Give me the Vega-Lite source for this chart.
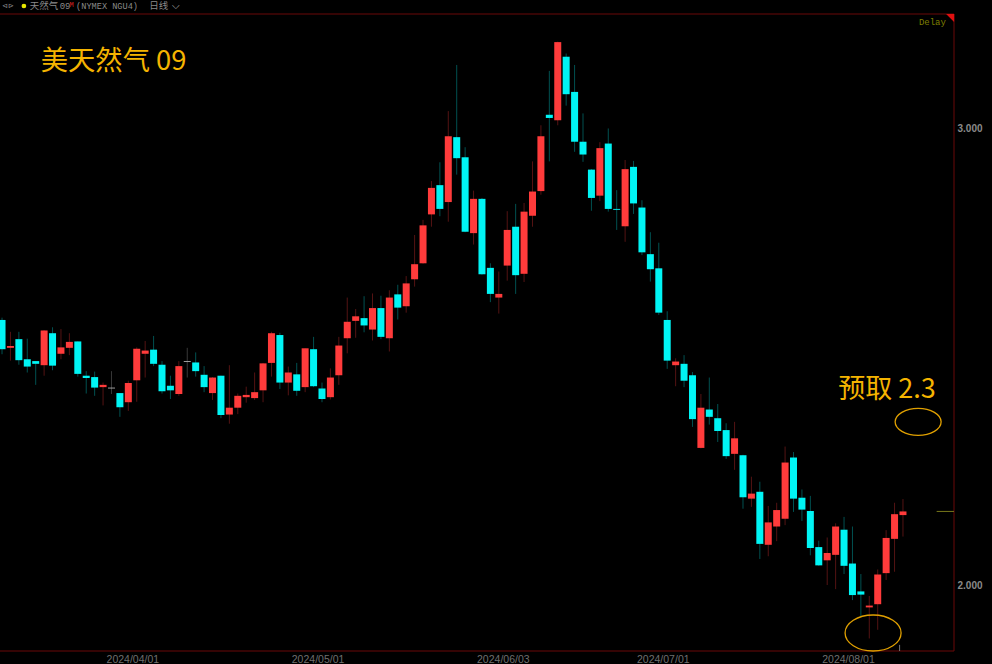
{"$schema":"https://vega.github.io/schema/vega-lite/v6.json","width":954,"height":637,"autosize":"none","padding":{"left":0,"top":14,"right":38,"bottom":13},"background":"#000000","config":{"view":{"stroke":null}},
"datasets":{"candles":[
{"i":0,"date":"2024-03-08","o":2.580,"h":2.585,"l":2.505,"c":2.516,"dir":"down"},
{"i":1,"date":"2024-03-11","o":2.519,"h":2.554,"l":2.491,"c":2.523,"dir":"up"},
{"i":2,"date":"2024-03-12","o":2.538,"h":2.554,"l":2.482,"c":2.492,"dir":"down"},
{"i":3,"date":"2024-03-13","o":2.494,"h":2.539,"l":2.465,"c":2.478,"dir":"down"},
{"i":4,"date":"2024-03-14","o":2.490,"h":2.490,"l":2.438,"c":2.484,"dir":"down"},
{"i":5,"date":"2024-03-15","o":2.481,"h":2.558,"l":2.458,"c":2.557,"dir":"up"},
{"i":6,"date":"2024-03-18","o":2.551,"h":2.564,"l":2.470,"c":2.480,"dir":"down"},
{"i":7,"date":"2024-03-19","o":2.506,"h":2.560,"l":2.494,"c":2.520,"dir":"up"},
{"i":8,"date":"2024-03-20","o":2.519,"h":2.551,"l":2.503,"c":2.532,"dir":"up"},
{"i":9,"date":"2024-03-21","o":2.533,"h":2.533,"l":2.456,"c":2.462,"dir":"down"},
{"i":10,"date":"2024-03-22","o":2.458,"h":2.468,"l":2.419,"c":2.453,"dir":"down"},
{"i":11,"date":"2024-03-25","o":2.455,"h":2.467,"l":2.414,"c":2.432,"dir":"down"},
{"i":12,"date":"2024-03-26","o":2.433,"h":2.443,"l":2.393,"c":2.438,"dir":"up"},
{"i":13,"date":"2024-03-27","o":2.432,"h":2.468,"l":2.418,"c":2.430,"dir":"flat"},
{"i":14,"date":"2024-03-28","o":2.420,"h":2.420,"l":2.368,"c":2.389,"dir":"down"},
{"i":15,"date":"2024-04-01","o":2.400,"h":2.447,"l":2.381,"c":2.442,"dir":"up"},
{"i":16,"date":"2024-04-02","o":2.448,"h":2.520,"l":2.401,"c":2.517,"dir":"up"},
{"i":17,"date":"2024-04-03","o":2.506,"h":2.534,"l":2.454,"c":2.513,"dir":"up"},
{"i":18,"date":"2024-04-04","o":2.515,"h":2.545,"l":2.479,"c":2.484,"dir":"down"},
{"i":19,"date":"2024-04-05","o":2.482,"h":2.490,"l":2.419,"c":2.424,"dir":"down"},
{"i":20,"date":"2024-04-08","o":2.436,"h":2.458,"l":2.407,"c":2.426,"dir":"down"},
{"i":21,"date":"2024-04-09","o":2.418,"h":2.490,"l":2.414,"c":2.479,"dir":"up"},
{"i":22,"date":"2024-04-10","o":2.490,"h":2.519,"l":2.454,"c":2.488,"dir":"flat"},
{"i":23,"date":"2024-04-11","o":2.487,"h":2.509,"l":2.456,"c":2.468,"dir":"down"},
{"i":24,"date":"2024-04-12","o":2.460,"h":2.479,"l":2.422,"c":2.433,"dir":"down"},
{"i":25,"date":"2024-04-15","o":2.420,"h":2.455,"l":2.405,"c":2.454,"dir":"up"},
{"i":26,"date":"2024-04-16","o":2.458,"h":2.458,"l":2.365,"c":2.372,"dir":"down"},
{"i":27,"date":"2024-04-17","o":2.373,"h":2.481,"l":2.353,"c":2.388,"dir":"up"},
{"i":28,"date":"2024-04-18","o":2.388,"h":2.419,"l":2.374,"c":2.414,"dir":"up"},
{"i":29,"date":"2024-04-19","o":2.411,"h":2.434,"l":2.399,"c":2.416,"dir":"up"},
{"i":30,"date":"2024-04-22","o":2.409,"h":2.465,"l":2.405,"c":2.422,"dir":"up"},
{"i":31,"date":"2024-04-23","o":2.426,"h":2.486,"l":2.400,"c":2.485,"dir":"up"},
{"i":32,"date":"2024-04-24","o":2.486,"h":2.554,"l":2.456,"c":2.551,"dir":"up"},
{"i":33,"date":"2024-04-25","o":2.547,"h":2.552,"l":2.429,"c":2.443,"dir":"down"},
{"i":34,"date":"2024-04-26","o":2.443,"h":2.478,"l":2.415,"c":2.465,"dir":"up"},
{"i":35,"date":"2024-04-29","o":2.461,"h":2.486,"l":2.414,"c":2.425,"dir":"down"},
{"i":36,"date":"2024-04-30","o":2.433,"h":2.518,"l":2.422,"c":2.518,"dir":"up"},
{"i":37,"date":"2024-05-01","o":2.516,"h":2.543,"l":2.433,"c":2.435,"dir":"down"},
{"i":38,"date":"2024-05-02","o":2.430,"h":2.443,"l":2.400,"c":2.407,"dir":"down"},
{"i":39,"date":"2024-05-03","o":2.411,"h":2.474,"l":2.406,"c":2.454,"dir":"up"},
{"i":40,"date":"2024-05-06","o":2.459,"h":2.543,"l":2.438,"c":2.524,"dir":"up"},
{"i":41,"date":"2024-05-07","o":2.540,"h":2.629,"l":2.507,"c":2.576,"dir":"up"},
{"i":42,"date":"2024-05-08","o":2.578,"h":2.604,"l":2.541,"c":2.588,"dir":"up"},
{"i":43,"date":"2024-05-09","o":2.584,"h":2.632,"l":2.553,"c":2.568,"dir":"down"},
{"i":44,"date":"2024-05-10","o":2.559,"h":2.638,"l":2.535,"c":2.606,"dir":"up"},
{"i":45,"date":"2024-05-13","o":2.606,"h":2.633,"l":2.538,"c":2.543,"dir":"down"},
{"i":46,"date":"2024-05-14","o":2.540,"h":2.645,"l":2.511,"c":2.629,"dir":"up"},
{"i":47,"date":"2024-05-15","o":2.636,"h":2.657,"l":2.581,"c":2.607,"dir":"down"},
{"i":48,"date":"2024-05-16","o":2.610,"h":2.676,"l":2.596,"c":2.660,"dir":"up"},
{"i":49,"date":"2024-05-17","o":2.669,"h":2.766,"l":2.653,"c":2.702,"dir":"up"},
{"i":50,"date":"2024-05-20","o":2.704,"h":2.799,"l":2.703,"c":2.787,"dir":"up"},
{"i":51,"date":"2024-05-21","o":2.811,"h":2.884,"l":2.784,"c":2.869,"dir":"up"},
{"i":52,"date":"2024-05-22","o":2.875,"h":2.925,"l":2.807,"c":2.823,"dir":"down"},
{"i":53,"date":"2024-05-23","o":2.838,"h":3.037,"l":2.795,"c":2.982,"dir":"up"},
{"i":54,"date":"2024-05-24","o":2.980,"h":3.138,"l":2.898,"c":2.934,"dir":"down"},
{"i":55,"date":"2024-05-28","o":2.936,"h":2.958,"l":2.772,"c":2.773,"dir":"down"},
{"i":56,"date":"2024-05-29","o":2.770,"h":2.863,"l":2.745,"c":2.845,"dir":"up"},
{"i":57,"date":"2024-05-30","o":2.845,"h":2.847,"l":2.679,"c":2.680,"dir":"down"},
{"i":58,"date":"2024-05-31","o":2.694,"h":2.704,"l":2.619,"c":2.637,"dir":"down"},
{"i":59,"date":"2024-06-03","o":2.629,"h":2.686,"l":2.594,"c":2.637,"dir":"up"},
{"i":60,"date":"2024-06-04","o":2.699,"h":2.818,"l":2.666,"c":2.777,"dir":"up"},
{"i":61,"date":"2024-06-05","o":2.784,"h":2.834,"l":2.637,"c":2.678,"dir":"down"},
{"i":62,"date":"2024-06-06","o":2.681,"h":2.836,"l":2.663,"c":2.817,"dir":"up"},
{"i":63,"date":"2024-06-07","o":2.808,"h":2.927,"l":2.784,"c":2.861,"dir":"up"},
{"i":64,"date":"2024-06-10","o":2.862,"h":3.006,"l":2.854,"c":2.982,"dir":"up"},
{"i":65,"date":"2024-06-11","o":3.029,"h":3.125,"l":2.927,"c":3.022,"dir":"down"},
{"i":66,"date":"2024-06-12","o":3.017,"h":3.189,"l":3.006,"c":3.188,"dir":"up"},
{"i":67,"date":"2024-06-13","o":3.156,"h":3.163,"l":3.049,"c":3.074,"dir":"down"},
{"i":68,"date":"2024-06-14","o":3.079,"h":3.138,"l":2.948,"c":2.970,"dir":"down"},
{"i":69,"date":"2024-06-17","o":2.970,"h":3.032,"l":2.926,"c":2.942,"dir":"down"},
{"i":70,"date":"2024-06-18","o":2.909,"h":2.910,"l":2.819,"c":2.847,"dir":"down"},
{"i":71,"date":"2024-06-20","o":2.852,"h":2.969,"l":2.840,"c":2.956,"dir":"up"},
{"i":72,"date":"2024-06-21","o":2.966,"h":2.999,"l":2.817,"c":2.823,"dir":"down"},
{"i":73,"date":"2024-06-24","o":2.823,"h":2.864,"l":2.777,"c":2.821,"dir":"down"},
{"i":74,"date":"2024-06-25","o":2.785,"h":2.930,"l":2.751,"c":2.910,"dir":"up"},
{"i":75,"date":"2024-06-26","o":2.915,"h":2.928,"l":2.812,"c":2.835,"dir":"down"},
{"i":76,"date":"2024-06-27","o":2.826,"h":2.842,"l":2.722,"c":2.728,"dir":"down"},
{"i":77,"date":"2024-06-28","o":2.724,"h":2.772,"l":2.664,"c":2.691,"dir":"down"},
{"i":78,"date":"2024-07-01","o":2.693,"h":2.749,"l":2.591,"c":2.596,"dir":"down"},
{"i":79,"date":"2024-07-02","o":2.580,"h":2.599,"l":2.473,"c":2.491,"dir":"down"},
{"i":80,"date":"2024-07-03","o":2.481,"h":2.496,"l":2.435,"c":2.489,"dir":"up"},
{"i":81,"date":"2024-07-05","o":2.484,"h":2.503,"l":2.433,"c":2.447,"dir":"down"},
{"i":82,"date":"2024-07-08","o":2.459,"h":2.466,"l":2.346,"c":2.363,"dir":"down"},
{"i":83,"date":"2024-07-09","o":2.300,"h":2.418,"l":2.299,"c":2.388,"dir":"up"},
{"i":84,"date":"2024-07-10","o":2.384,"h":2.454,"l":2.351,"c":2.368,"dir":"down"},
{"i":85,"date":"2024-07-11","o":2.365,"h":2.396,"l":2.313,"c":2.337,"dir":"down"},
{"i":86,"date":"2024-07-12","o":2.339,"h":2.354,"l":2.276,"c":2.282,"dir":"down"},
{"i":87,"date":"2024-07-15","o":2.287,"h":2.357,"l":2.252,"c":2.321,"dir":"up"},
{"i":88,"date":"2024-07-16","o":2.284,"h":2.285,"l":2.167,"c":2.192,"dir":"down"},
{"i":89,"date":"2024-07-17","o":2.189,"h":2.237,"l":2.171,"c":2.200,"dir":"up"},
{"i":90,"date":"2024-07-18","o":2.204,"h":2.226,"l":2.057,"c":2.090,"dir":"down"},
{"i":91,"date":"2024-07-19","o":2.088,"h":2.173,"l":2.063,"c":2.137,"dir":"up"},
{"i":92,"date":"2024-07-22","o":2.128,"h":2.180,"l":2.096,"c":2.164,"dir":"up"},
{"i":93,"date":"2024-07-23","o":2.145,"h":2.303,"l":2.131,"c":2.268,"dir":"up"},
{"i":94,"date":"2024-07-24","o":2.279,"h":2.291,"l":2.160,"c":2.189,"dir":"down"},
{"i":95,"date":"2024-07-25","o":2.191,"h":2.209,"l":2.140,"c":2.165,"dir":"down"},
{"i":96,"date":"2024-07-26","o":2.162,"h":2.195,"l":2.065,"c":2.081,"dir":"down"},
{"i":97,"date":"2024-07-29","o":2.083,"h":2.097,"l":2.042,"c":2.043,"dir":"down"},
{"i":98,"date":"2024-07-30","o":2.054,"h":2.104,"l":2.000,"c":2.070,"dir":"up"},
{"i":99,"date":"2024-07-31","o":2.066,"h":2.135,"l":1.991,"c":2.128,"dir":"up"},
{"i":100,"date":"2024-08-01","o":2.121,"h":2.149,"l":2.024,"c":2.042,"dir":"down"},
{"i":101,"date":"2024-08-02","o":2.047,"h":2.128,"l":1.967,"c":1.978,"dir":"down"},
{"i":102,"date":"2024-08-05","o":1.986,"h":2.024,"l":1.931,"c":1.979,"dir":"down"},
{"i":103,"date":"2024-08-06","o":1.951,"h":1.976,"l":1.883,"c":1.955,"dir":"up"},
{"i":104,"date":"2024-08-07","o":1.958,"h":2.034,"l":1.902,"c":2.023,"dir":"up"},
{"i":105,"date":"2024-08-08","o":2.026,"h":2.120,"l":2.011,"c":2.103,"dir":"up"},
{"i":106,"date":"2024-08-09","o":2.101,"h":2.180,"l":2.029,"c":2.155,"dir":"up"},
{"i":107,"date":"2024-08-12","o":2.153,"h":2.188,"l":2.106,"c":2.161,"dir":"up"}
],
"notes":[
{"label":"美天然气 09","x":4.6,"y":3.144,"size":27.3,"color":"#f5b400"},
{"label":"预取 2.3","x":99.3,"y":2.427,"size":27,"color":"#f5b400"},
{"label":"天然气","x":3.3,"y":3.266,"size":9.5,"color":"#8a8a8a"},
{"label":"日线","x":17.5,"y":3.266,"size":9.5,"color":"#8a8a8a"},
{"label":"⌵","x":20.2,"y":3.266,"size":10,"color":"#aaaaaa"},
{"label":"⊲⊳","x":0,"y":3.266,"size":7,"color":"#8a8a8a"}
],
"mono":[
{"label":"09","x":6.85,"y":3.266,"size":9,"color":"#8a8a8a"},
{"label":"M","x":8.0,"y":3.27,"size":7,"color":"#d02020"},
{"label":"(NYMEX NGU4)","x":8.8,"y":3.266,"size":8.6,"color":"#8a8a8a"}
],
"frame":[
{"x":-0.24,"x2":113.06,"y":3.2495,"y2":3.2495},
{"x":-0.24,"x2":113.06,"y":1.8556,"y2":1.8556},
{"x":113.06,"x2":113.06,"y":1.8556,"y2":3.2495}
]},
"layer":[
{"data":{"name":"frame"},"mark":{"type":"rule","strokeWidth":1,"color":"#6a0808","clip":false},"encoding":{
"x":{"field":"x","type":"quantitative","scale":{"domain":[-0.24,113.06],"nice":false,"zero":false},"axis":{"title":null,"values":[15,37,59,78,100],"grid":false,"ticks":false,"domain":false,"labelColor":"#6f6f6f","labelFontSize":10.5,"labelFont":"Liberation Sans","labelPadding":3,"labelOffset":4,"labelFlush":false,"labelOverlap":false,"labelExpr":"datum.value==15?'2024/04/01':datum.value==37?'2024/05/01':datum.value==59?'2024/06/03':datum.value==78?'2024/07/01':'2024/08/01'"}},
"x2":{"field":"x2"},
"y":{"field":"y","type":"quantitative","scale":{"domain":[1.8556,3.2495],"nice":false,"zero":false},"axis":{"title":null,"orient":"right","values":[2,3],"format":".3f","grid":false,"ticks":false,"domain":false,"labelColor":"#8a8a8a","labelFontSize":10,"labelFontWeight":"bold","labelFont":"Liberation Sans","labelPadding":3}},
"y2":{"field":"y2"}
}},
{"data":{"name":"candles"},"mark":{"type":"rule","strokeWidth":1},"encoding":{
"x":{"field":"i","type":"quantitative"},
"y":{"field":"h","type":"quantitative"},
"y2":{"field":"l"},
"color":{"field":"dir","type":"nominal","legend":null,"scale":{"domain":["up","down","flat"],"range":["#ff3b3b","#00f5f5","#aaaaaa"]}},
"opacity":{"field":"dir","type":"nominal","legend":null,"scale":{"domain":["up","down","flat"],"range":[0.33,0.33,0.6]}}
}},
{"data":{"name":"candles"},"mark":{"type":"rule","strokeWidth":7,"strokeCap":"butt"},"encoding":{
"x":{"field":"i","type":"quantitative"},
"y":{"field":"o","type":"quantitative"},
"y2":{"field":"c"},
"color":{"field":"dir","type":"nominal","legend":null}
}},
{"data":{"values":[{"x":111,"x2":113.06,"y":2.161,"y2":2.161,"color":"#77771a"},{"x":106.6,"x2":106.6,"y":1.8556,"y2":1.869,"color":"#777777"}]},"mark":{"type":"rule","strokeWidth":1},"encoding":{
"x":{"field":"x","type":"quantitative"},"x2":{"field":"x2"},"y":{"field":"y","type":"quantitative"},"y2":{"field":"y2"},"color":{"field":"color","type":"nominal","scale":null}
}},
{"data":{"values":[{"x":108.8,"y":2.357}]},"mark":{"type":"point","shape":"M -1 0 A 1 0.587 0 1 0 1 0 A 1 0.587 0 1 0 -1 0 Z","size":2116,"filled":false,"stroke":"#e0a000","strokeWidth":1.3,"opacity":1},"encoding":{"x":{"field":"x","type":"quantitative"},"y":{"field":"y","type":"quantitative"}}},
{"data":{"values":[{"x":103.45,"y":1.895}]},"mark":{"type":"point","shape":"M -1 0 A 1 0.643 0 1 0 1 0 A 1 0.643 0 1 0 -1 0 Z","size":3136,"filled":false,"stroke":"#e0a000","strokeWidth":1.3,"opacity":1},"encoding":{"x":{"field":"x","type":"quantitative"},"y":{"field":"y","type":"quantitative"}}},
{"data":{"values":[{"x":112.6,"y":3.241}]},"mark":{"type":"point","shape":"M -1 -1 L 1 -1 L 1 1 Z","size":64,"filled":true,"fill":"#e01010","stroke":null,"opacity":1},"encoding":{"x":{"field":"x","type":"quantitative"},"y":{"field":"y","type":"quantitative"}}},
{"data":{"values":[{"x":2.6,"y":3.267}]},"mark":{"type":"point","shape":"circle","size":22,"filled":true,"fill":"#e6e600","stroke":null,"opacity":1,"clip":false},"encoding":{"x":{"field":"x","type":"quantitative"},"y":{"field":"y","type":"quantitative"}}},
{"data":{"name":"notes"},"mark":{"type":"text","baseline":"middle","align":"left","clip":false,"font":"Noto Sans CJK SC"},"encoding":{
"x":{"field":"x","type":"quantitative"},"y":{"field":"y","type":"quantitative"},"text":{"field":"label"},
"color":{"field":"color","type":"nominal","scale":null},
"size":{"field":"size","type":"quantitative","scale":null}
}},
{"data":{"name":"mono"},"mark":{"type":"text","baseline":"middle","align":"left","clip":false,"font":"Liberation Mono"},"encoding":{
"x":{"field":"x","type":"quantitative"},"y":{"field":"y","type":"quantitative"},"text":{"field":"label"},
"color":{"field":"color","type":"nominal","scale":null},
"size":{"field":"size","type":"quantitative","scale":null}
}},
{"data":{"values":[{"label":"Delay","x":112.1,"y":3.233}]},"mark":{"type":"text","baseline":"middle","align":"right","font":"Liberation Mono","fontSize":9,"color":"#7f7f00"},"encoding":{
"x":{"field":"x","type":"quantitative"},"y":{"field":"y","type":"quantitative"},"text":{"field":"label"}
}}
]}
